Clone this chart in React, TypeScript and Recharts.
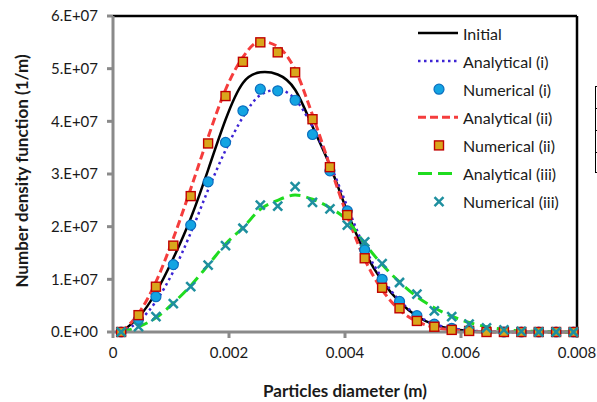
import React from 'react';
import { ComposedChart, Line, XAxis, YAxis, Legend, ReferenceLine } from 'recharts';

// particle diameter (m) at each sample
const diameters = [
  0.00014, 0.00044, 0.00074, 0.00104, 0.00134, 0.00164, 0.00194, 0.00224, 0.00254,
  0.00284, 0.00314, 0.00344, 0.00374, 0.00404, 0.00434, 0.00464, 0.00494, 0.00524,
  0.00554, 0.00584, 0.00614, 0.00644, 0.00674, 0.00704, 0.00734, 0.00764, 0.00794,
];

const initial = [
  0, 2.8e6, 7.5e6, 14.0e6, 21.6e6, 30.8e6, 40.3e6, 47.3e6, 49.3e6, 48.9e6, 46.0e6,
  39.0e6, 31.6e6, 22.8e6, 15.2e6, 9.7e6, 5.7e6, 3.0e6, 1.4e6, 0.6e6, 0.2e6, 0, 0, 0, 0, 0, 0,
];
const analyticalI = [
  0, 2.0e6, 5.8e6, 11.5e6, 18.8e6, 27.0e6, 34.5e6, 40.8e6, 45.0e6, 46.0e6, 44.2e6,
  39.0e6, 32.0e6, 23.8e6, 16.0e6, 10.2e6, 6.0e6, 3.2e6, 1.5e6, 0.7e6, 0.3e6, 0.1e6, 0, 0, 0, 0, 0,
];
const numericalI = [
  0, 2.4e6, 6.7e6, 12.8e6, 20.3e6, 28.5e6, 36.0e6, 42.0e6, 46.1e6, 45.8e6, 44.0e6,
  37.5e6, 30.6e6, 23.0e6, 15.6e6, 10.0e6, 5.8e6, 3.1e6, 1.5e6, 0.7e6, 0.3e6, 0.1e6, 0, 0, 0, 0, 0,
];
const analyticalII = [
  0, 3.5e6, 9.5e6, 17.8e6, 27.2e6, 37.0e6, 46.0e6, 52.2e6, 55.2e6, 54.2e6, 49.8e6,
  41.2e6, 31.5e6, 22.0e6, 13.8e6, 8.0e6, 4.2e6, 2.0e6, 0.9e6, 0.4e6, 0.1e6, 0, 0, 0, 0, 0, 0,
];
const numericalII = [
  0, 3.2e6, 8.6e6, 16.4e6, 25.8e6, 35.8e6, 44.8e6, 51.3e6, 55.0e6, 53.1e6, 49.3e6,
  40.4e6, 31.3e6, 22.2e6, 14.0e6, 8.4e6, 4.5e6, 2.1e6, 1.0e6, 0.4e6, 0.2e6, 0, 0, 0, 0, 0, 0,
];
const analyticalIII = [
  0, 1.0e6, 2.7e6, 5.5e6, 8.8e6, 12.7e6, 16.7e6, 19.8e6, 23.3e6, 25.0e6, 26.0e6,
  25.2e6, 23.6e6, 21.2e6, 16.8e6, 12.8e6, 9.5e6, 6.7e6, 4.6e6, 3.0e6, 1.8e6, 1.0e6, 0.5e6, 0.2e6, 0.1e6, 0, 0,
];
const numericalIII = [
  0, 1.0e6, 2.9e6, 5.4e6, 8.6e6, 12.7e6, 16.4e6, 19.7e6, 24.1e6, 23.9e6, 27.6e6,
  24.6e6, 23.4e6, 20.3e6, 17.1e6, 13.0e6, 9.4e6, 7.2e6, 4.0e6, 2.9e6, 1.5e6, 0.8e6, 0.4e6, 0.1e6, 0, 0, 0,
];

const xTicks = [0, 0.002, 0.004, 0.006, 0.008];
const yTicks = [0, 1e7, 2e7, 3e7, 4e7, 5e7, 6e7];

const data = diameters.map((d, i) => ({
  d,
  initial: initial[i],
  anaI: analyticalI[i],
  numI: numericalI[i],
  anaII: analyticalII[i],
  numII: numericalII[i],
  anaIII: analyticalIII[i],
  numIII: numericalIII[i],
}));

const FONT = 'Lato, "Open Sans", sans-serif';
const TEXT = '#1a1a1a';
const AXIS = '#8a8a8a';

const C_INIT = '#000000';
const C_ANA1 = '#3d24d4';
const C_NUM1_FILL = '#13a4e2';
const C_NUM1_EDGE = '#0a6fbf';
const C_ANA2 = '#f53d3d';
const C_NUM2_FILL = '#d9a61c';
const C_NUM2_EDGE = '#c00000';
const C_ANA3 = '#1fdc1f';
const C_NUM3 = '#1e8f9f';

const Circle = ({ cx, cy }: any) =>
  cx == null || cy == null ? null : (
    <circle cx={cx} cy={cy} r={5} fill={C_NUM1_FILL} stroke={C_NUM1_EDGE} strokeWidth={1.2} />
  );

const Square = ({ cx, cy }: any) =>
  cx == null || cy == null ? null : (
    <rect x={cx - 4.5} y={cy - 4.5} width={9} height={9} fill={C_NUM2_FILL} stroke={C_NUM2_EDGE} strokeWidth={1.4} />
  );

const Cross = ({ cx, cy }: any) =>
  cx == null || cy == null ? null : (
    <g stroke={C_NUM3} strokeWidth={2.5}>
      <line x1={cx - 4.5} y1={cy - 4.5} x2={cx + 4.5} y2={cy + 4.5} />
      <line x1={cx - 4.5} y1={cy + 4.5} x2={cx + 4.5} y2={cy - 4.5} />
    </g>
  );

const legendRows = [
  { name: 'Initial', line: { stroke: C_INIT, dash: undefined, width: 2.5 } },
  { name: 'Analytical (i)', line: { stroke: C_ANA1, dash: '2.5 3.5', width: 2.5 } },
  { name: 'Numerical (i)', marker: 'circle' },
  { name: 'Analytical (ii)', line: { stroke: C_ANA2, dash: '8 4', width: 3 } },
  { name: 'Numerical (ii)', marker: 'square' },
  { name: 'Analytical (iii)', line: { stroke: C_ANA3, dash: '14 6', width: 3 } },
  { name: 'Numerical (iii)', marker: 'cross' },
];

const renderLegend = () => (
  <svg width={170} height={200}>
    {legendRows.map((row: any, i) => {
      const y = 15 + i * 28.1;
      return (
        <g key={row.name}>
          {row.line && (
            <line x1={8} y1={y} x2={48} y2={y} stroke={row.line.stroke} strokeWidth={row.line.width} strokeDasharray={row.line.dash} />
          )}
          {row.marker === 'circle' && <Circle cx={29} cy={y} />}
          {row.marker === 'square' && <Square cx={29} cy={y} />}
          {row.marker === 'cross' && <Cross cx={29} cy={y} />}
          <text x={53} y={y} dominantBaseline="central" fontFamily={FONT} fontSize={16} fill={TEXT}>
            {row.name}
          </text>
        </g>
      );
    })}
  </svg>
);

const YTitle = (props: any) => {
  const vb = props.viewBox || { y: 16, height: 316 };
  const cy = vb.y + vb.height / 2 - 3;
  return (
    <text
      x={21}
      y={cy}
      transform={`rotate(-90 21 ${cy})`}
      textAnchor="middle"
      dominantBaseline="central"
      fontFamily={FONT}
      fontWeight={700}
      fontSize={17}
      fill={TEXT}
    >
      Number density function (1/m)
    </text>
  );
};

const fmtY = (v: number) => (v === 0 ? '0.E+00' : `${Math.round(v / 1e7)}.E+07`);
const fmtX = (v: number) => (v === 0 ? '0' : v.toFixed(3));

const App: React.FC = () => {
  return (
    <div style={{ position: 'absolute', left: 0, top: 0, width: 597, height: 402, background: '#fff' }}>
      <ComposedChart width={597} height={402} data={data} margin={{ top: 16, right: 20, bottom: 0, left: 0 }}>
        <XAxis
          dataKey="d"
          type="number"
          domain={[0, 0.008]}
          ticks={xTicks}
          tickFormatter={fmtX}
          height={70}
          stroke={AXIS}
          strokeWidth={3}
          tickSize={6}
          tickMargin={9}
          tick={{ fill: TEXT, fontSize: 15, fontFamily: FONT }}
          label={{ value: 'Particles diameter (m)', position: 'insideBottom', offset: 5, fill: TEXT, fontSize: 17, fontWeight: 700, fontFamily: FONT }}
        />
        <YAxis
          type="number"
          domain={[0, 6e7]}
          ticks={yTicks}
          tickFormatter={fmtY}
          width={113}
          stroke={AXIS}
          strokeWidth={3}
          tickSize={6}
          tickMargin={9}
          tick={{ fill: TEXT, fontSize: 15, fontFamily: FONT }}
          label={(p: any) => <YTitle {...p} />}
        />
        <ReferenceLine y={6e7} stroke="#000" strokeWidth={2.5} />
        <ReferenceLine x={0.008} stroke="#000" strokeWidth={2.5} />
        <Legend
          layout="horizontal"
          verticalAlign="middle"
          align="center"
          wrapperStyle={{ left: 410, top: 18, width: 170 }}
          content={renderLegend}
        />
        <Line dataKey="initial" type="natural" stroke={C_INIT} strokeWidth={2.5} dot={false} activeDot={false} isAnimationActive={false} />
        <Line dataKey="anaI" type="monotone" stroke={C_ANA1} strokeWidth={2.5} strokeDasharray="2.5 3.5" dot={false} activeDot={false} isAnimationActive={false} />
        <Line dataKey="numI" stroke="none" dot={<Circle />} activeDot={false} isAnimationActive={false} />
        <Line dataKey="anaII" type="monotone" stroke={C_ANA2} strokeWidth={3} strokeDasharray="8 4" dot={false} activeDot={false} isAnimationActive={false} />
        <Line dataKey="numII" stroke="none" dot={<Square />} activeDot={false} isAnimationActive={false} />
        <Line dataKey="anaIII" type="monotone" stroke={C_ANA3} strokeWidth={3} strokeDasharray="11 6" dot={false} activeDot={false} isAnimationActive={false} />
        <Line dataKey="numIII" stroke="none" dot={<Cross />} activeDot={false} isAnimationActive={false} />
      </ComposedChart>
      {/* clipped table fragment at the right edge */}
      <div style={{ position: 'absolute', left: 595, top: 86, width: 10, height: 87, borderLeft: '1.5px solid #000', borderTop: '1px solid #000', borderBottom: '1px solid #000', boxSizing: 'border-box' }}>
        <div style={{ position: 'absolute', left: 0, top: 21, width: 10, borderTop: '1px solid #000' }} />
        <div style={{ position: 'absolute', left: 0, top: 43, width: 10, borderTop: '1px solid #000' }} />
        <div style={{ position: 'absolute', left: 0, top: 65, width: 10, borderTop: '1px solid #000' }} />
      </div>
    </div>
  );
};

export default App;
